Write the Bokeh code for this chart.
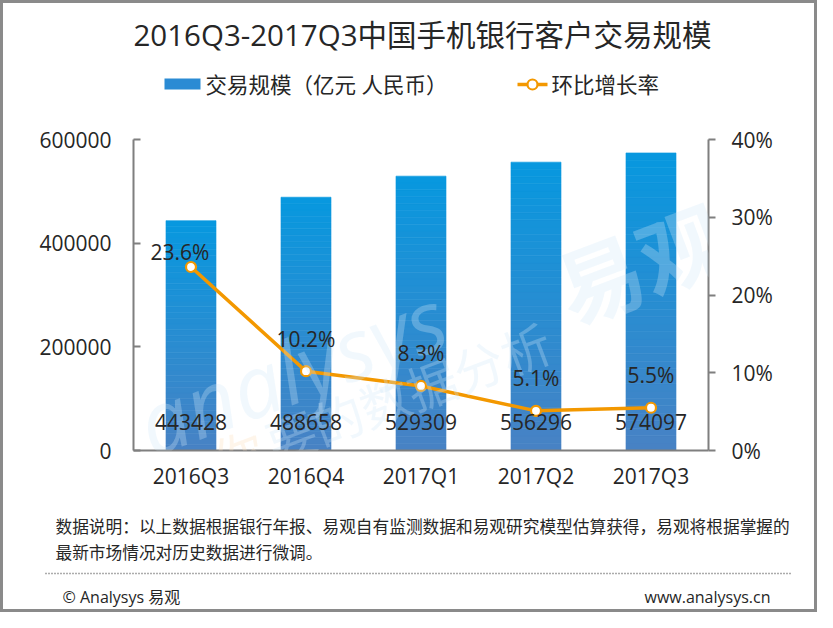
import numpy as np
from bokeh.plotting import figure
from bokeh.layouts import column
from bokeh.models import (ColumnDataSource, Range1d, FactorRange, LinearAxis, FixedTicker,
                          PrintfTickFormatter, Label, LabelSet)
from bokeh.core.properties import value
from bokeh.embed import file_html
from bokeh.resources import INLINE

# ---------------- data ----------------
categories = ["2016Q3", "2016Q4", "2017Q1", "2017Q2", "2017Q3"]
volume = [443428, 488658, 529309, 556296, 574097]      # 交易规模（亿元 人民币）
growth = [23.6, 10.2, 8.3, 5.1, 5.5]                   # 环比增长率 (%)
left_ticks = [0, 200000, 400000, 600000]
right_ticks = [0, 10, 20, 30, 40]

title_text = "2016Q3-2017Q3中国手机银行客户交易规模"
bar_name = "交易规模（亿元 人民币）"
line_name = "环比增长率"
note1 = "数据说明：以上数据根据银行年报、易观自有监测数据和易观研究模型估算获得，易观将根据掌握的"
note2 = "最新市场情况对历史数据进行微调。"
copyright_text = "© Analysys 易观"
site_text = "www.analysys.cn"

# ---------------- style ----------------
FONT = "'Open Sans', 'Noto Sans CJK SC'"
TXT = "#262626"
AX = "#7f7f7f"
ORANGE = "#F39800"
BAR_KEY = "#2B8BD4"
B = 3            # outer border width
WI = 811         # inner width
X0, X1 = B, B + WI
HEAD_TOP, HEAD_BOT = B, 120       # page pixel rows of the header strip
MAIN_BOT = 500                    # page pixel row where the chart strip ends
FOOT_BOT = 609                    # page pixel row where the footer strip ends


def canvas_fig(y_top, y_bot):
    f = figure(width=WI, height=y_bot - y_top, x_range=Range1d(X0, X1),
               y_range=Range1d(y_bot, y_top),
               output_backend="svg", toolbar_location=None, frame_align=False,
               min_border=0, min_border_left=0, min_border_right=0,
               min_border_top=0, min_border_bottom=0)
    f.axis.visible = False
    f.grid.visible = False
    f.outline_line_color = None
    f.background_fill_color = "white"
    f.border_fill_color = "white"
    return f


def put_text(f, x, y, t, size, align="left"):
    f.text(x=[x], y=[y], text=[t], text_font=value(FONT), text_font_size=value(size),
           text_color=TXT, text_align=align, text_baseline="middle")


# ---------------- header ----------------
head = canvas_fig(HEAD_TOP, HEAD_BOT)
put_text(head, 422, 34, title_text, "29.5px", "center")
LEG_Y = 84
head.quad(left=[164], right=[200], top=[LEG_Y - 6], bottom=[LEG_Y + 5],
          fill_color=BAR_KEY, line_color=None)
put_text(head, 205, LEG_Y, bar_name, "21.5px")
head.line(x=[517, 547], y=[LEG_Y, LEG_Y], line_color=ORANGE, line_width=3.5)
head.scatter(x=[532], y=[LEG_Y], size=10, fill_color="white", line_color=ORANGE,
             line_width=2.2)
put_text(head, 551, LEG_Y, line_name, "21.5px")

# ---------------- main chart ----------------
FL, FR, FT, FB = 133, 708, 139, 450      # frame edges, page pixels
p = figure(width=WI, height=MAIN_BOT - HEAD_BOT, x_range=FactorRange(*categories),
           y_range=Range1d(0, 600000), output_backend="svg", toolbar_location=None,
           frame_align=False,
           min_border_left=FL - X0, min_border_right=X1 - FR,
           min_border_top=FT - HEAD_BOT, min_border_bottom=MAIN_BOT - FB)
p.outline_line_color = None
p.xgrid.visible = False
p.ygrid.visible = False
p.background_fill_color = "white"
p.border_fill_color = "white"

ya = p.yaxis[0]
ya.ticker = FixedTicker(ticks=left_ticks)
ya.formatter = PrintfTickFormatter(format="%d")
ya.major_tick_in = 7
ya.major_tick_out = 0
ya.minor_tick_line_color = None
ya.axis_line_color = AX
ya.axis_line_width = 2
ya.major_tick_line_color = AX
ya.major_tick_line_width = 2
ya.major_label_text_font = FONT
ya.major_label_text_font_size = "21px"
ya.major_label_text_color = TXT
ya.major_label_standoff = 22

p.extra_y_ranges = {"pct": Range1d(0, 40)}
ra = LinearAxis(y_range_name="pct", ticker=FixedTicker(ticks=right_ticks),
                formatter=PrintfTickFormatter(format="%d%%"))
ra.major_tick_in = 0
ra.major_tick_out = 7
ra.minor_tick_line_color = None
ra.axis_line_color = AX
ra.axis_line_width = 2
ra.major_tick_line_color = AX
ra.major_tick_line_width = 2
ra.major_label_text_font = FONT
ra.major_label_text_font_size = "21px"
ra.major_label_text_color = TXT
ra.major_label_standoff = 16
p.add_layout(ra, "right")

xa = p.xaxis[0]
xa.axis_line_color = AX
xa.axis_line_width = 2
xa.major_tick_line_color = None
xa.minor_tick_line_color = None
xa.major_label_text_font = FONT
xa.major_label_text_font_size = "21px"
xa.major_label_text_color = TXT
xa.major_label_standoff = 5


def SX(x):
    return x - FL


def SY(y):
    return FB - y


# faint watermark
wm = [
    ("analysys", 140, 426, 86, "#d2e8f7", 0.3, "italic"),
    ("易观", 560, 294, 86, "#d2e8f7", 0.3, "bold"),
    ("你", 215, 464, 50, "#fde3c4", 0.35, "normal"),
    ("要的数据分析", 268, 446, 50, "#d2e8f7", 0.3, "normal"),
]
for t, x, y, fs, col, a, style in wm:
    p.add_layout(Label(x=SX(x), y=SY(y), x_units="screen", y_units="screen", text=t,
                       angle=0.36, text_font=FONT, text_font_size=f"{fs}px",
                       text_font_style=style, text_color=col, text_alpha=a,
                       text_baseline="alphabetic", text_align="left"))

# gradient bars: each bar drawn as stacked slices of its own value
N = 40
top_rgb = np.array([7, 152, 223])
bot_rgb = np.array([72, 130, 196])
xs, bots, tops, cols = [], [], [], []
for c, v in zip(categories, volume):
    for k in range(N):
        xs.append(c)
        bots.append(v * k / N)
        tops.append(v * (k + 1) / N)
        t = (k + 0.5) / N
        rgb = bot_rgb + (top_rgb - bot_rgb) * t
        cols.append("#%02x%02x%02x" % tuple(int(round(q)) for q in rgb))
p.vbar(x=xs, bottom=bots, top=tops, width=0.435, fill_color=cols, line_color=cols,
       line_width=0.6)

p.line(categories, growth, y_range_name="pct", line_color=ORANGE, line_width=3.5)
p.scatter(categories, growth, y_range_name="pct", size=10, fill_color="white",
          line_color=ORANGE, line_width=2.2)

vsrc = ColumnDataSource(dict(x=categories, y=[0] * len(categories),
                             t=[str(v) for v in volume]))
p.add_layout(LabelSet(x="x", y="y", text="t", source=vsrc, y_offset=29,
                      text_align="center", text_baseline="middle",
                      text_font=value(FONT), text_font_size=value("21px"), text_color=TXT))

dx = [-11, 0, 0, 0, 0]
dy = [15, 32, 33, 33, 33]
gsrc = ColumnDataSource(dict(x=categories, y=growth, t=["%.1f%%" % g for g in growth],
                             dx=dx, dy=dy))
p.add_layout(LabelSet(x="x", y="y", text="t", source=gsrc, y_range_name="pct",
                      x_offset="dx", y_offset="dy",
                      text_align="center", text_baseline="middle",
                      text_font=value(FONT), text_font_size=value("21px"), text_color=TXT))

# ---------------- footer ----------------
foot = canvas_fig(MAIN_BOT, FOOT_BOT)
put_text(foot, 55, 526, note1, "16.7px")
put_text(foot, 55, 552, note2, "16.7px")
foot.line(x=[45, 790], y=[573, 573], line_color="#595959", line_width=1.5, line_dash="1 2")
put_text(foot, 62, 596, copyright_text, "16px")
put_text(foot, 770, 596, site_text, "16px", "right")

page = column(head, p, foot, spacing=0,
              styles={"border": f"{B}px solid #8a8a8a", "background-color": "white"})

open("out.html", "w").write(file_html(page, INLINE))
